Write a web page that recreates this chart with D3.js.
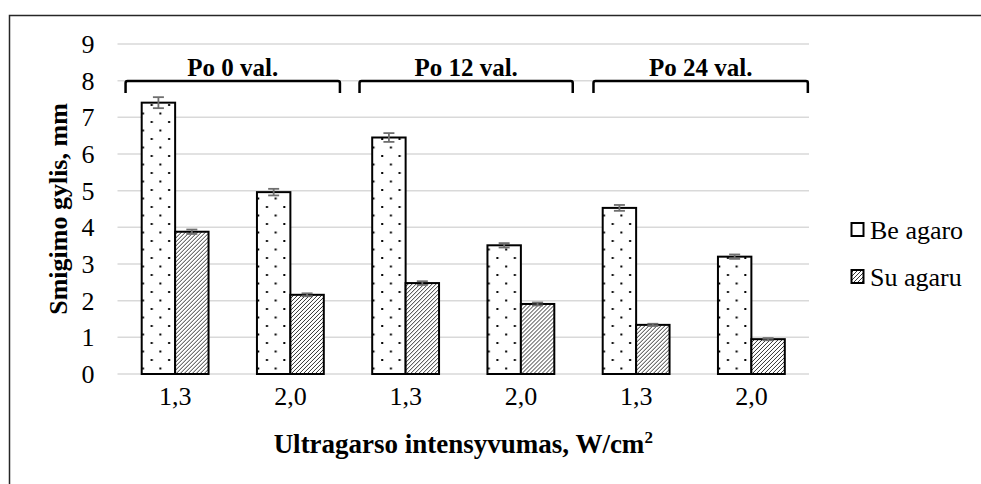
<!DOCTYPE html>
<html>
<head>
<meta charset="utf-8">
<script src="https://cdn.jsdelivr.net/npm/d3@7/dist/d3.min.js"></script>
<style>
  html, body { margin: 0; padding: 0; background: #fff; }
  svg { display: block; }
</style>
</head>
<body>
<svg id="chart" width="981" height="484"></svg>
<script>
// Intensity categories along the x axis
const categories = ["1,3", "2,0", "1,3", "2,0", "1,3", "2,0"];
// Series: penetration depth, mm
const seriesNames = ["Be agaro", "Su agaru"];
const beAgaro = [7.40, 4.96, 6.45, 3.51, 4.53, 3.20];
const suAgaru = [3.88, 2.16, 2.48, 1.91, 1.34, 0.95];
const beAgaroErr = [0.15, 0.09, 0.12, 0.06, 0.08, 0.06];
const suAgaruErr = [0.06, 0.04, 0.05, 0.04, 0.03, 0.03];
// Y ticks
const yTicks = [0, 1, 2, 3, 4, 5, 6, 7, 8, 9];
// Time-point brackets: label and span in category units (0 = first category centre)
const bracketLabels = ["Po 0 val.", "Po 12 val.", "Po 24 val."];
const bracketFrom = [-0.43, 1.60, 3.63];
const bracketTo = [1.43, 3.45, 5.49];

const FONT = "Liberation Serif";
const svg = d3.select("#chart");

// outer frame
svg.append("rect")
  .attr("x", 9.5).attr("y", 15.5)
  .attr("width", 1100).attr("height", 600)
  .attr("fill", "none").attr("stroke", "#262626").attr("stroke-width", 1.5);

const plot = { left: 117.5, right: 809, top: 44, bottom: 374 };

const y = d3.scaleLinear().domain([0, 9]).range([plot.bottom, plot.top]);
const x = d3.scaleBand()
  .domain(d3.range(categories.length))
  .range([plot.left, plot.right])
  .paddingInner(0.42).paddingOuter(0.21);
const xs = d3.scaleBand().domain(seriesNames).range([0, x.bandwidth()]);
// continuous position in category units, for the brackets
const xc = d3.scaleLinear().domain([0, 1])
  .range([x(0) + x.bandwidth() / 2, x(1) + x.bandwidth() / 2]);

// patterns
const defs = svg.append("defs");
const dots = defs.append("pattern")
  .attr("id", "dots").attr("patternUnits", "userSpaceOnUse")
  .attr("width", 17.4).attr("height", 17)
  .attr("x", x(0) + 0.5).attr("y", 2);
dots.append("rect").attr("width", 17.4).attr("height", 17).attr("fill", "#fff");
dots.append("rect").attr("x", 6).attr("y", 0).attr("width", 2).attr("height", 2).attr("fill", "#000");
dots.append("rect").attr("x", 14.7).attr("y", 8.5).attr("width", 2).attr("height", 2).attr("fill", "#000");

const hatch = defs.append("pattern")
  .attr("id", "hatch").attr("patternUnits", "userSpaceOnUse")
  .attr("width", 4).attr("height", 4);
hatch.append("rect").attr("width", 4).attr("height", 4).attr("fill", "#fff");
hatch.append("path").attr("d", "M-1,1 l2,-2 M0,4 l4,-4 M3,5 l2,-2")
  .attr("stroke", "#111").attr("stroke-width", 0.85);

// gridlines
svg.append("g").selectAll("line").data(yTicks).join("line")
  .attr("x1", plot.left).attr("x2", plot.right)
  .attr("y1", d => y(d)).attr("y2", d => y(d))
  .attr("stroke", "#d9d9d9").attr("stroke-width", 1.5);

// y axis labels
const yAxis = svg.append("g").attr("transform", `translate(${plot.left - 22},0)`)
  .call(d3.axisLeft(y).tickValues(yTicks).tickSize(0).tickPadding(0).tickFormat(d3.format("d")));
yAxis.select(".domain").remove();
yAxis.selectAll("text")
  .style("font-family", FONT).style("font-size", "26px")
  .attr("fill", "#000").attr("text-anchor", "middle").attr("dx", -7.5).attr("dy", "0.33em");

// x axis labels
const xAxis = svg.append("g").attr("transform", `translate(0,${plot.bottom + 13})`)
  .call(d3.axisBottom(x).tickSize(0).tickPadding(0).tickFormat(i => categories[i]));
xAxis.select(".domain").remove();
xAxis.selectAll("text")
  .style("font-family", FONT).style("font-size", "26px")
  .attr("fill", "#000").attr("dy", "0.71em");

// bars
const rows = categories.map((c, i) => ({
  i,
  vals: [
    { s: seriesNames[0], v: beAgaro[i], e: beAgaroErr[i], fill: "url(#dots)" },
    { s: seriesNames[1], v: suAgaru[i], e: suAgaruErr[i], fill: "url(#hatch)" }
  ]
}));

const groups = svg.append("g").selectAll("g").data(rows).join("g")
  .attr("transform", d => `translate(${x(d.i)},0)`);

groups.selectAll("rect").data(d => d.vals).join("rect")
  .attr("x", d => xs(d.s)).attr("width", xs.bandwidth())
  .attr("y", d => y(d.v)).attr("height", d => y(0) - y(d.v))
  .attr("fill", d => d.fill).attr("stroke", "#000").attr("stroke-width", 2);

// error bars
const err = groups.selectAll("g.err").data(d => d.vals).join("g").attr("class", "err")
  .attr("transform", d => `translate(${xs(d.s) + xs.bandwidth() / 2},0)`);
err.append("line").attr("x1", 0).attr("x2", 0)
  .attr("y1", d => y(d.v + d.e)).attr("y2", d => y(d.v - d.e));
err.append("line").attr("x1", -5.5).attr("x2", 5.5)
  .attr("y1", d => y(d.v + d.e)).attr("y2", d => y(d.v + d.e));
err.append("line").attr("x1", -5.5).attr("x2", 5.5)
  .attr("y1", d => y(d.v - d.e)).attr("y2", d => y(d.v - d.e));
err.selectAll("line").attr("stroke", "#6f6f6f").attr("stroke-width", 1.8);

// brackets marking time points
const bTop = 81, bDrop = 12;
const br = svg.append("g").selectAll("g").data(bracketLabels).join("g");
br.append("path")
  .attr("d", (d, i) => {
    const a = xc(bracketFrom[i]), b = xc(bracketTo[i]);
    return `M${a},${bTop + bDrop} V${bTop + 2} Q${a},${bTop} ${a + 2},${bTop} H${b - 2} Q${b},${bTop} ${b},${bTop + 2} V${bTop + bDrop}`;
  })
  .attr("fill", "none").attr("stroke", "#000").attr("stroke-width", 2.5);
br.append("text")
  .attr("x", (d, i) => (xc(bracketFrom[i]) + xc(bracketTo[i])) / 2)
  .attr("y", bTop - 5)
  .attr("text-anchor", "middle")
  .style("font-family", FONT).style("font-weight", "bold").style("font-size", "25px")
  .text(d => d);

// legend
const legend = svg.append("g").selectAll("g").data(seriesNames).join("g")
  .attr("transform", (d, i) => `translate(851,${230 + i * 47})`);
legend.append("rect").attr("x", 0.5).attr("y", -7).attr("width", 12).attr("height", 13)
  .attr("fill", (d, i) => i === 0 ? "#fff" : "url(#hatch)")
  .attr("stroke", "#000").attr("stroke-width", 2);
legend.append("text").attr("x", 19).attr("y", 0).attr("dy", "0.35em")
  .style("font-family", FONT).style("font-size", "26px").text(d => d);

// axis titles
svg.append("text")
  .attr("transform", `translate(67,${(plot.top + plot.bottom) / 2}) rotate(-90)`)
  .attr("text-anchor", "middle")
  .style("font-family", FONT).style("font-weight", "bold").style("font-size", "26px")
  .text("Smigimo gylis, mm");

const xt = svg.append("text")
  .attr("x", (plot.left + plot.right) / 2).attr("y", 453)
  .attr("text-anchor", "middle")
  .style("font-family", FONT).style("font-weight", "bold").style("font-size", "27px");
xt.append("tspan").text("Ultragarso intensyvumas, W/cm");
xt.append("tspan").text("2").style("font-size", "17px").attr("dy", -10);
</script>
</body>
</html>
